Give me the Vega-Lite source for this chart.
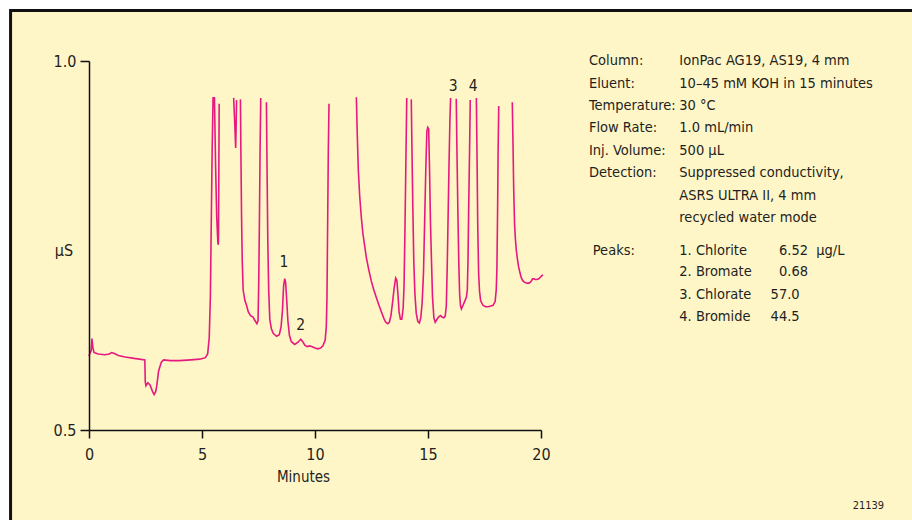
{
  "$schema": "https://vega.github.io/schema/vega-lite/v6.json",
  "width": 452,
  "height": 369,
  "autosize": {"type": "none"},
  "padding": {"left": 89, "top": 61, "right": 371, "bottom": 90},
  "background": "white",
  "config": {
    "view": {"stroke": null},
    "font": "Liberation Sans Narrow, DejaVu Sans Condensed, Roboto, sans-serif",
    "text": {"font": "Liberation Sans Narrow, DejaVu Sans Condensed, Roboto, sans-serif", "fontSize": 14.5, "color": "#231f20"},
    "axis": {"labelFont": "Liberation Sans Narrow, DejaVu Sans Condensed, Roboto, sans-serif", "titleFont": "Liberation Sans Narrow, DejaVu Sans Condensed, Roboto, sans-serif", "labelColor": "#231f20", "titleColor": "#231f20", "domainColor": "#111", "tickColor": "#111", "domainWidth": 1.5, "tickWidth": 1.5, "grid": false}
  },
  "datasets": {
    "trace": [
      {"t":0.0,"v":0.600,"seg":1},{"t":0.03,"v":0.603,"seg":1},{"t":0.1,"v":0.608,"seg":1},{"t":0.13,"v":0.624,"seg":1},{"t":0.17,"v":0.612,"seg":1},{"t":0.22,"v":0.605,"seg":1},{"t":0.4,"v":0.603,"seg":1},{"t":0.7,"v":0.602,"seg":1},{"t":0.9,"v":0.603,"seg":1},{"t":1.0,"v":0.605,"seg":1},{"t":1.1,"v":0.604,"seg":1},{"t":1.3,"v":0.601,"seg":1},{"t":1.6,"v":0.599,"seg":1},{"t":2.0,"v":0.597,"seg":1},{"t":2.47,"v":0.595,"seg":1},{"t":2.49,"v":0.565,"seg":1},{"t":2.52,"v":0.560,"seg":1},{"t":2.6,"v":0.564,"seg":1},{"t":2.7,"v":0.561,"seg":1},{"t":2.8,"v":0.553,"seg":1},{"t":2.88,"v":0.548,"seg":1},{"t":2.95,"v":0.552,"seg":1},{"t":3.0,"v":0.560,"seg":1},{"t":3.08,"v":0.580,"seg":1},{"t":3.2,"v":0.592,"seg":1},{"t":3.3,"v":0.595,"seg":1},{"t":3.6,"v":0.594,"seg":1},{"t":4.0,"v":0.594,"seg":1},{"t":4.5,"v":0.595,"seg":1},{"t":4.9,"v":0.596,"seg":1},{"t":5.15,"v":0.598,"seg":1},{"t":5.25,"v":0.603,"seg":1},{"t":5.32,"v":0.625,"seg":1},{"t":5.37,"v":0.680,"seg":1},{"t":5.41,"v":0.780,"seg":1},{"t":5.45,"v":0.880,"seg":1},{"t":5.49,"v":0.950,"seg":1},{"t":5.55,"v":0.950,"seg":1},{"t":5.6,"v":0.860,"seg":1},{"t":5.65,"v":0.790,"seg":1},{"t":5.70,"v":0.755,"seg":1},{"t":5.72,"v":0.751,"seg":1},{"t":5.73,"v":0.760,"seg":1},{"t":5.745,"v":0.850,"seg":1},{"t":5.76,"v":0.942,"seg":1},
      {"t":6.40,"v":0.950,"seg":2},{"t":6.45,"v":0.915,"seg":2},{"t":6.49,"v":0.882,"seg":2},{"t":6.51,"v":0.910,"seg":2},{"t":6.53,"v":0.947,"seg":2},
      {"t":6.70,"v":0.948,"seg":3},{"t":6.72,"v":0.880,"seg":3},{"t":6.75,"v":0.790,"seg":3},{"t":6.78,"v":0.730,"seg":3},{"t":6.82,"v":0.690,"seg":3},{"t":6.9,"v":0.675,"seg":3},{"t":6.96,"v":0.670,"seg":3},{"t":7.05,"v":0.660,"seg":3},{"t":7.15,"v":0.655,"seg":3},{"t":7.26,"v":0.653,"seg":3},{"t":7.35,"v":0.648,"seg":3},{"t":7.43,"v":0.644,"seg":3},{"t":7.48,"v":0.648,"seg":3},{"t":7.51,"v":0.700,"seg":3},{"t":7.54,"v":0.780,"seg":3},{"t":7.57,"v":0.880,"seg":3},{"t":7.60,"v":0.950,"seg":3},
      {"t":7.85,"v":0.944,"seg":4},{"t":7.88,"v":0.850,"seg":4},{"t":7.91,"v":0.760,"seg":4},{"t":7.95,"v":0.690,"seg":4},{"t":8.0,"v":0.650,"seg":4},{"t":8.07,"v":0.637,"seg":4},{"t":8.15,"v":0.631,"seg":4},{"t":8.3,"v":0.627,"seg":4},{"t":8.42,"v":0.629,"seg":4},{"t":8.5,"v":0.640,"seg":4},{"t":8.56,"v":0.662,"seg":4},{"t":8.61,"v":0.695,"seg":4},{"t":8.66,"v":0.705,"seg":4},{"t":8.70,"v":0.700,"seg":4},{"t":8.75,"v":0.675,"seg":4},{"t":8.80,"v":0.648,"seg":4},{"t":8.87,"v":0.628,"seg":4},{"t":8.95,"v":0.620,"seg":4},{"t":9.1,"v":0.616,"seg":4},{"t":9.25,"v":0.619,"seg":4},{"t":9.37,"v":0.623,"seg":4},{"t":9.45,"v":0.620,"seg":4},{"t":9.55,"v":0.615,"seg":4},{"t":9.65,"v":0.613,"seg":4},{"t":9.75,"v":0.614,"seg":4},{"t":9.85,"v":0.613,"seg":4},{"t":10.0,"v":0.611,"seg":4},{"t":10.13,"v":0.610,"seg":4},{"t":10.25,"v":0.611,"seg":4},{"t":10.35,"v":0.614,"seg":4},{"t":10.45,"v":0.622,"seg":4},{"t":10.50,"v":0.640,"seg":4},{"t":10.53,"v":0.680,"seg":4},{"t":10.56,"v":0.780,"seg":4},{"t":10.59,"v":0.880,"seg":4},{"t":10.62,"v":0.942,"seg":4},
      {"t":11.83,"v":0.951,"seg":5},{"t":11.87,"v":0.900,"seg":5},{"t":11.92,"v":0.850,"seg":5},{"t":11.98,"v":0.816,"seg":5},{"t":12.05,"v":0.788,"seg":5},{"t":12.12,"v":0.766,"seg":5},{"t":12.2,"v":0.749,"seg":5},{"t":12.27,"v":0.734,"seg":5},{"t":12.38,"v":0.717,"seg":5},{"t":12.49,"v":0.702,"seg":5},{"t":12.6,"v":0.690,"seg":5},{"t":12.71,"v":0.680,"seg":5},{"t":12.83,"v":0.669,"seg":5},{"t":12.94,"v":0.660,"seg":5},{"t":13.05,"v":0.651,"seg":5},{"t":13.13,"v":0.646,"seg":5},{"t":13.22,"v":0.644,"seg":5},{"t":13.29,"v":0.646,"seg":5},{"t":13.36,"v":0.655,"seg":5},{"t":13.44,"v":0.675,"seg":5},{"t":13.5,"v":0.692,"seg":5},{"t":13.57,"v":0.706,"seg":5},{"t":13.62,"v":0.703,"seg":5},{"t":13.67,"v":0.684,"seg":5},{"t":13.72,"v":0.660,"seg":5},{"t":13.78,"v":0.650,"seg":5},{"t":13.84,"v":0.650,"seg":5},{"t":13.9,"v":0.665,"seg":5},{"t":13.94,"v":0.695,"seg":5},{"t":13.98,"v":0.770,"seg":5},{"t":14.02,"v":0.860,"seg":5},{"t":14.06,"v":0.950,"seg":5},
      {"t":14.26,"v":0.948,"seg":6},{"t":14.29,"v":0.880,"seg":6},{"t":14.33,"v":0.800,"seg":6},{"t":14.37,"v":0.730,"seg":6},{"t":14.42,"v":0.685,"seg":6},{"t":14.48,"v":0.658,"seg":6},{"t":14.55,"v":0.647,"seg":6},{"t":14.62,"v":0.645,"seg":6},{"t":14.68,"v":0.652,"seg":6},{"t":14.74,"v":0.672,"seg":6},{"t":14.8,"v":0.712,"seg":6},{"t":14.85,"v":0.780,"seg":6},{"t":14.9,"v":0.850,"seg":6},{"t":14.95,"v":0.905,"seg":6},{"t":14.99,"v":0.910,"seg":6},{"t":15.03,"v":0.908,"seg":6},{"t":15.07,"v":0.850,"seg":6},{"t":15.11,"v":0.780,"seg":6},{"t":15.15,"v":0.734,"seg":6},{"t":15.2,"v":0.680,"seg":6},{"t":15.26,"v":0.652,"seg":6},{"t":15.32,"v":0.646,"seg":6},{"t":15.38,"v":0.649,"seg":6},{"t":15.44,"v":0.652,"seg":6},{"t":15.5,"v":0.654,"seg":6},{"t":15.56,"v":0.655,"seg":6},{"t":15.62,"v":0.653,"seg":6},{"t":15.7,"v":0.652,"seg":6},{"t":15.76,"v":0.654,"seg":6},{"t":15.81,"v":0.668,"seg":6},{"t":15.85,"v":0.720,"seg":6},{"t":15.89,"v":0.790,"seg":6},{"t":15.93,"v":0.860,"seg":6},{"t":15.97,"v":0.920,"seg":6},{"t":16.0,"v":0.950,"seg":6},
      {"t":16.25,"v":0.949,"seg":7},{"t":16.28,"v":0.880,"seg":7},{"t":16.32,"v":0.800,"seg":7},{"t":16.36,"v":0.730,"seg":7},{"t":16.40,"v":0.684,"seg":7},{"t":16.44,"v":0.668,"seg":7},{"t":16.48,"v":0.664,"seg":7},{"t":16.55,"v":0.669,"seg":7},{"t":16.62,"v":0.674,"seg":7},{"t":16.7,"v":0.680,"seg":7},{"t":16.74,"v":0.690,"seg":7},{"t":16.77,"v":0.730,"seg":7},{"t":16.8,"v":0.800,"seg":7},{"t":16.84,"v":0.880,"seg":7},{"t":16.87,"v":0.947,"seg":7},
      {"t":17.14,"v":0.950,"seg":8},{"t":17.17,"v":0.870,"seg":8},{"t":17.2,"v":0.780,"seg":8},{"t":17.24,"v":0.712,"seg":8},{"t":17.28,"v":0.688,"seg":8},{"t":17.33,"v":0.675,"seg":8},{"t":17.43,"v":0.669,"seg":8},{"t":17.55,"v":0.667,"seg":8},{"t":17.65,"v":0.667,"seg":8},{"t":17.78,"v":0.668,"seg":8},{"t":17.88,"v":0.669,"seg":8},{"t":17.97,"v":0.674,"seg":8},{"t":18.02,"v":0.690,"seg":8},{"t":18.05,"v":0.720,"seg":8},{"t":18.08,"v":0.800,"seg":8},{"t":18.1,"v":0.870,"seg":8},{"t":18.13,"v":0.939,"seg":8},
      {"t":18.73,"v":0.944,"seg":9},{"t":18.76,"v":0.890,"seg":9},{"t":18.79,"v":0.830,"seg":9},{"t":18.83,"v":0.779,"seg":9},{"t":18.87,"v":0.758,"seg":9},{"t":18.91,"v":0.743,"seg":9},{"t":18.96,"v":0.731,"seg":9},{"t":19.01,"v":0.721,"seg":9},{"t":19.07,"v":0.713,"seg":9},{"t":19.13,"v":0.706,"seg":9},{"t":19.2,"v":0.702,"seg":9},{"t":19.28,"v":0.700,"seg":9},{"t":19.38,"v":0.699,"seg":9},{"t":19.47,"v":0.699,"seg":9},{"t":19.52,"v":0.700,"seg":9},{"t":19.57,"v":0.702,"seg":9},{"t":19.63,"v":0.705,"seg":9},{"t":19.68,"v":0.705,"seg":9},{"t":19.75,"v":0.704,"seg":9},{"t":19.82,"v":0.704,"seg":9},{"t":19.9,"v":0.705,"seg":9},{"t":19.97,"v":0.707,"seg":9},{"t":20.03,"v":0.709,"seg":9},{"t":20.09,"v":0.710,"seg":9}
    ],
    "peaks": [
      {"label": "1", "t": 8.63, "v": 0.728},
      {"label": "2", "t": 9.37, "v": 0.642},
      {"label": "3", "t": 16.12, "v": 0.966},
      {"label": "4", "t": 17.0, "v": 0.966}
    ],
    "info": [
      {"key": "Column:", "value": "IonPac AG19, AS19, 4 mm", "v": 1.0},
      {"key": "Eluent:", "value": "10–45 mM KOH in 15 minutes", "v": 0.9694},
      {"key": "Temperature:", "value": "30 °C", "v": 0.939},
      {"key": "Flow Rate:", "value": "1.0 mL/min", "v": 0.9088},
      {"key": "Inj. Volume:", "value": "500 µL", "v": 0.878},
      {"key": "Detection:", "value": "Suppressed conductivity,", "v": 0.8478},
      {"key": "", "value": "ASRS ULTRA II, 4 mm", "v": 0.8175},
      {"key": "", "value": "recycled water mode", "v": 0.7877}
    ],
    "analytes": [
      {"key": "Peaks:", "name": "1. Chlorite", "conc": "6.52", "unit": "µg/L", "v": 0.743},
      {"key": "", "name": "2. Bromate", "conc": "0.68", "unit": "", "v": 0.7137},
      {"key": "", "name": "3. Chlorate", "conc": "57.0", "unit": "", "v": 0.683},
      {"key": "", "name": "4. Bromide", "conc": "44.5", "unit": "", "v": 0.6535}
    ]
  },
  "layer": [
    {
      "data": {"values": [{"frame": "panel"}]},
      "mark": {"type": "rect", "fill": "#FFF6C8", "stroke": "#111", "strokeWidth": 3},
      "encoding": {
        "x": {"datum": -3.47, "type": "quantitative", "scale": {"domain": [0, 20], "nice": false, "zero": false},
          "axis": {"zindex": 2, "values": [0, 5, 10, 15, 20], "format": "d", "labelFontSize": 16, "labelFlush": false, "tickSize": 8, "labelPadding": 8, "title": "Minutes", "titleFontSize": 15, "titleFontWeight": "normal", "titlePadding": 7, "titleX": 214}},
        "x2": {"datum": 45},
        "y": {"datum": 1.0684, "type": "quantitative", "scale": {"domain": [0.5, 1.0], "nice": false, "zero": false},
          "axis": {"zindex": 2, "values": [0.5, 1.0], "format": ".1f", "labelFontSize": 16, "labelFlush": false, "tickSize": 9, "labelPadding": 4, "title": null}},
        "y2": {"datum": 0.2}
      }
    },
    {
      "data": {"name": "trace"},
      "mark": {"type": "line", "color": "#E6197F", "strokeWidth": 1.6, "clip": false},
      "encoding": {
        "x": {"field": "t", "type": "quantitative", "scale": {"domain": [0, 20], "nice": false, "zero": false},
          "axis": {"zindex": 2, "values": [0, 5, 10, 15, 20], "format": "d", "labelFontSize": 16, "labelFlush": false, "tickSize": 8, "labelPadding": 8, "title": "Minutes", "titleFontSize": 15, "titleFontWeight": "normal", "titlePadding": 7, "titleX": 214}},
        "y": {"field": "v", "type": "quantitative", "scale": {"domain": [0.5, 1.0], "nice": false, "zero": false},
          "axis": {"zindex": 2, "values": [0.5, 1.0], "format": ".1f", "labelFontSize": 16, "labelFlush": false, "tickSize": 9, "labelPadding": 4, "title": null}},
        "detail": {"field": "seg", "type": "nominal"}
      }
    },
    {
      "data": {"name": "peaks"},
      "mark": {"type": "text", "align": "center", "baseline": "middle", "fontSize": 15.5},
      "encoding": {
        "x": {"field": "t", "type": "quantitative"},
        "y": {"field": "v", "type": "quantitative"},
        "text": {"field": "label"}
      }
    },
    {
      "data": {"values": [{"label": "µS", "t": -1.11, "v": 0.743}]},
      "mark": {"type": "text", "align": "center", "baseline": "middle", "fontSize": 16},
      "encoding": {
        "x": {"field": "t", "type": "quantitative"},
        "y": {"field": "v", "type": "quantitative"},
        "text": {"field": "label"}
      }
    },
    {
      "data": {"values": [{"label": "21139", "t": 33.79, "v": 0.397}]},
      "mark": {"type": "text", "align": "left", "baseline": "middle", "fontSize": 11},
      "encoding": {
        "x": {"field": "t", "type": "quantitative"},
        "y": {"field": "v", "type": "quantitative"},
        "text": {"field": "label"}
      }
    },
    {
      "data": {"name": "info"},
      "mark": {"type": "text", "align": "left", "baseline": "middle"},
      "encoding": {
        "x": {"datum": 22.12, "type": "quantitative"},
        "y": {"field": "v", "type": "quantitative"},
        "text": {"field": "key"}
      }
    },
    {
      "data": {"name": "info"},
      "mark": {"type": "text", "align": "left", "baseline": "middle"},
      "encoding": {
        "x": {"datum": 26.12, "type": "quantitative"},
        "y": {"field": "v", "type": "quantitative"},
        "text": {"field": "value"}
      }
    },
    {
      "data": {"name": "analytes"},
      "mark": {"type": "text", "align": "left", "baseline": "middle"},
      "encoding": {
        "x": {"datum": 22.29, "type": "quantitative"},
        "y": {"field": "v", "type": "quantitative"},
        "text": {"field": "key"}
      }
    },
    {
      "data": {"name": "analytes"},
      "mark": {"type": "text", "align": "left", "baseline": "middle"},
      "encoding": {
        "x": {"datum": 26.12, "type": "quantitative"},
        "y": {"field": "v", "type": "quantitative"},
        "text": {"field": "name"}
      }
    },
    {
      "data": {"name": "analytes"},
      "transform": [{"filter": "toNumber(datum.conc) < 10"}],
      "mark": {"type": "text", "align": "left", "baseline": "middle"},
      "encoding": {
        "x": {"datum": 30.53, "type": "quantitative"},
        "y": {"field": "v", "type": "quantitative"},
        "text": {"field": "conc"}
      }
    },
    {
      "data": {"name": "analytes"},
      "transform": [{"filter": "toNumber(datum.conc) >= 10"}],
      "mark": {"type": "text", "align": "left", "baseline": "middle"},
      "encoding": {
        "x": {"datum": 30.16, "type": "quantitative"},
        "y": {"field": "v", "type": "quantitative"},
        "text": {"field": "conc"}
      }
    },
    {
      "data": {"name": "analytes"},
      "mark": {"type": "text", "align": "left", "baseline": "middle"},
      "encoding": {
        "x": {"datum": 32.18, "type": "quantitative"},
        "y": {"field": "v", "type": "quantitative"},
        "text": {"field": "unit"}
      }
    }
  ]
}
